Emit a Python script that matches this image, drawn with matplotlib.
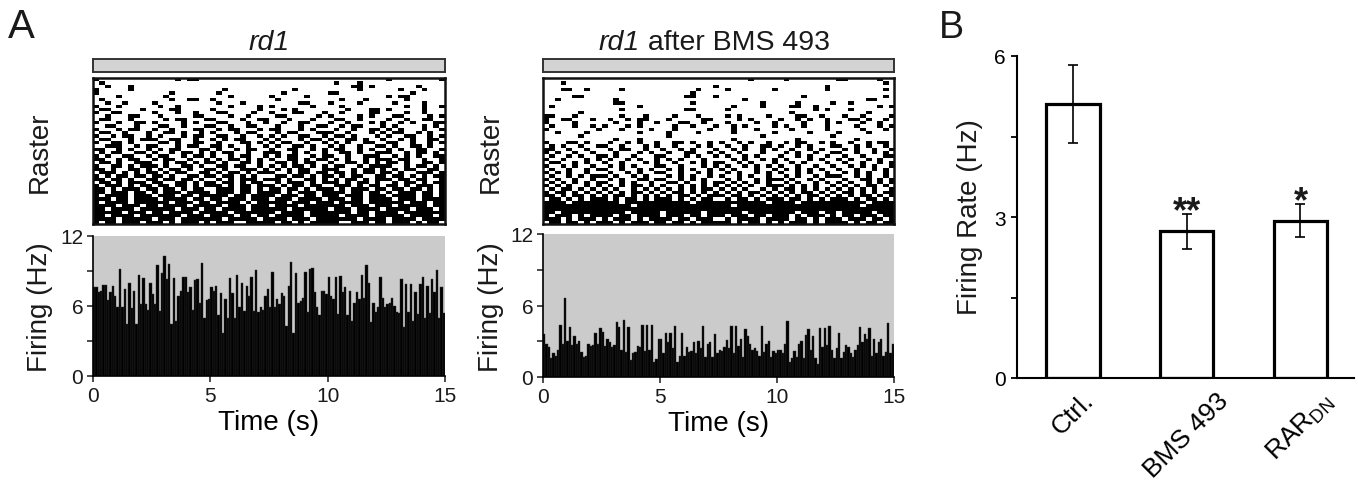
import matplotlib
matplotlib.use('Agg')
import matplotlib.pyplot as plt
import numpy as np

plt.rcParams['font.family'] = ['Liberation Sans', 'DejaVu Sans']
plt.rcParams['mathtext.fontset'] = 'custom'
plt.rcParams['mathtext.rm'] = 'Liberation Sans'
plt.rcParams['text.color'] = '#1a1a1a'

# ---- panel A data: population firing rate, 0.1 s bins over 15 s ----
bin_width = 0.1
rate_rd1 = [
    7.6, 7.6, 7.2, 7.3, 7.8, 7.8, 6.5, 7.2, 7.7, 6.9,
    5.9, 9.2, 5.9, 7.5, 4.5, 8.0, 5.8, 7.3, 4.5, 8.7,
    6.2, 8.4, 6.2, 5.7, 8.0, 7.0, 6.2, 9.5, 5.6, 8.8,
    10.3, 8.3, 9.6, 4.5, 8.4, 4.7, 6.9, 7.3, 8.5, 8.5,
    7.2, 7.6, 5.7, 8.2, 8.3, 6.3, 9.7, 5.0, 6.5, 6.6,
    7.6, 7.3, 7.7, 5.2, 7.1, 3.7, 6.6, 5.0, 8.4, 7.1,
    5.0, 8.7, 5.9, 8.0, 5.6, 7.7, 6.9, 8.5, 5.6, 9.1,
    5.5, 5.9, 5.7, 6.9, 7.5, 5.9, 8.9, 5.9, 6.6, 6.2,
    7.1, 6.9, 4.3, 7.7, 9.8, 3.7, 8.8, 6.3, 6.4, 6.7,
    8.9, 5.5, 9.2, 9.3, 7.2, 5.9, 5.2, 7.3, 7.3, 7.0,
    8.5, 6.9, 6.6, 8.5, 5.3, 8.6, 7.2, 7.6, 5.2, 7.3,
    4.7, 6.3, 7.2, 6.6, 8.7, 6.7, 9.5, 8.0, 4.6, 6.3,
    5.5, 5.9, 8.5, 6.7, 5.9, 6.2, 6.3, 6.7, 6.0, 5.5,
    5.4, 8.3, 4.2, 7.9, 5.5, 7.9, 4.7, 7.2, 5.3, 7.9,
    8.5, 5.0, 7.7, 5.4, 8.3, 7.2, 9.1, 5.0, 7.6, 5.4,
]
rate_bms = [
    3.6, 2.8, 2.5, 1.6, 2.0, 1.8, 2.3, 4.4, 2.8, 6.6,
    3.0, 4.2, 2.7, 3.4, 2.8, 3.0, 2.1, 1.7, 1.8, 2.8,
    2.6, 2.7, 3.7, 2.8, 4.1, 3.8, 2.6, 3.2, 2.9, 2.5,
    2.7, 4.6, 4.2, 2.3, 4.8, 2.1, 4.2, 1.4, 2.0, 2.1,
    2.6, 2.5, 4.4, 2.2, 4.4, 2.3, 4.4, 1.3, 1.5, 3.2,
    3.2, 2.0, 3.7, 2.9, 3.7, 2.4, 4.3, 1.3, 1.8, 3.7,
    1.8, 2.5, 2.1, 2.2, 2.9, 2.0, 3.0, 2.4, 4.3, 1.7,
    2.8, 2.9, 1.7, 3.6, 2.0, 2.3, 2.2, 2.5, 3.1, 2.4,
    4.3, 2.0, 4.3, 2.6, 3.2, 1.7, 4.0, 3.4, 2.8, 2.3,
    2.4, 2.2, 1.8, 4.3, 2.1, 2.8, 3.0, 1.7, 2.2, 2.0,
    2.3, 2.3, 2.0, 2.8, 4.7, 1.3, 1.6, 2.2, 1.7, 2.8,
    3.0, 1.6, 3.5, 4.0, 2.3, 3.4, 1.6, 1.1, 4.1, 2.5,
    4.1, 2.7, 4.3, 2.3, 1.6, 2.4, 3.7, 1.6, 2.1, 2.7,
    2.5, 2.0, 1.7, 2.3, 2.7, 4.2, 2.9, 3.6, 3.2, 4.1,
    1.8, 3.2, 2.0, 2.9, 3.2, 1.8, 2.1, 4.5, 2.0, 2.8,
]

# raster: one string per cell (row), '#' = spike in a 0.25 s slot (spaces only for readability)
raster_rd1 = [
    "#......... ....#.##.. .......... .......... .......... #........#",
    ".#........ .......... .......... .......... .#...#.... ..........",
    "..#...#... .......... .......... .......... ....##.#.. .....#....",
    "#.....#... .......... ..#....... ....#..... .....#.... ..#...#...",
    "#......... ...#...... .#........ ..#....... ##........ ....#.....",
    "....#..... ..#....... ...#...... #.....#... .......... #.##......",
    ".#........ ...#..##.. #......... .#........ ..#...#... ...#......",
    "..#..#.... #......... .#...#.... .....##... #....#.... .#....#...",
    "#...#..... .#..#..... ...#....#. #......#.. ..#....... ...#..#..#",
    ".##.....#. ...##..... #.......#. ..#.#..... ...#...##. #.....#...",
    "#..##..... #...#..#.. .##....#.. #...##...# ..#....##. ...#..#...",
    "..#...##.. .#.....##. ...#..#... .##.....#. #....#.#.. .##....#.#",
    ".##...#... ..#.##...# #....#..## ...#...#.. .##..#.... #..#..##..",
    "#...#..##. #....#.#.. .##...#..# ..#..##... #..#...#.# ..#.#...##",
    "..##...#.. .##..#...# #..#..##.. .#...#..## ..#.##...# .#....#.#.",
    "#...#.##.. #..#...##. .#.##...#. ##...#.#.. .#..#..##. #.#...#..#",
    ".##..#...# ..##.#..#. #...#.##.. .#.##...## #..#...#.# .##..#.#..",
    "#..#.##..# .#...#.##. .##..#..#. #.#..##..# .##.#...#. #..##..#.#",
    ".##...#.## #..##..#.. #.#.##...# .#...#.##. #..##.#..# ..#.#..##.",
    "#..##.#... .##.#..##. .#...##.#. #.##..#..# .#.#..##.. ##..#..#.#",
    "..###..#.# #...#.##.. ##.#..#..# .#..##.#.. #.#..#..## .#..##.#..",
    "##..#.#..# .#.##...## .#..#.##.. #..##..#.# .##..#.#.. #.#..##..#",
    ".#.##..##. #..#.##.#. #.##..#..# ##..#.#..# ..##.#..## #..#.##.#.",
    "#.#..##..# .##..#.##. #..#.##..# .#.##..#.# #..#..###. .#.#.#..##",
    "##..#.##.. #.##..#..# .#.##.#.#. #..##.#.## .#.#..#.## #.##..#..#",
    ".##.#..### ..#.##.#.# #.#..##.#. .##.#.##.. #..##.#.#. ##.#..##.#",
    "#..##.#.## #.#..##.#. .##.##..#. #.#.##.#.# .##..#.### #..#.##.#.",
    "##.#..##.# .#.##.#..# #.#..###.# .#.#.##..# ##..#.##.# .#.##..##.",
    ".###.#.#.# #.#.##..## .#.##.#.## #..#.##.## .##.#.##.# #.#..###.#",
    "#.#.##.##. ##.#..##.# #.##.#.#.. .##.##.#.# #.#.##..## .##.#.#.##",
    "##.##.#..# #.##.##.#. .#.#.###.# ##.#..##.# .#.##.#.## #.##.##..#",
    ".##.#.###. ##..##.#.# #.##.#.##. .#.###.#.# ##.#.##.#. .#.##.#.##",
    "#.###.#.## .##.##.#.# ##.#.##.## #.#.##.##. .###.#.##. ##.#.###.#",
    "##.#.###.# #.##.#.##. .###.##.#. ##.##.#.## #.#.###.## .##.##.#.#",
    "##.###.##. #.###.#### .###.##.## ##.#.###.# ###.##.##. #.###.##.#",
    "#.####.### .###.##.## ###.##.### #.###.##.# ##.###.### .####.##.#",
    "###.##.### #.####.##. ##.###.### .###.####. ###.##.### #.###.####",
    "#.####.### ###.###.## .####.#.## ###.###.## #.####.### ###.###.##",
    "####.###.# #.####.### ##.###.### .####.#### ###.###.## #.#####.##",
    "##.####.## ####.###.# #.####.### ###.###### .###.####. ####.###.#",
    "#####.###. ##.####.## ###.###### #.####.### ####.##.## ##.#######",
    "##.####.## #####.###. ####.##.## .#####.### ##.####.## ###.####.#",
    "####.##### .###.##### ##.#####.# ###.###.## #####.#### .####.####",
    "#.##.###.# ##.#.###.# .###..#### #.##.#.### ##..###.## .###.#.##.",
]
raster_bms = [
    ".......... .......... .......... .....#.... .#........ ##.....#..",
    "...#...... .......... .......... .......... .......... ........#.",
    ".......... .......... .........# .......... ........#. ..........",
    "...##..#.. ...#...... ......#... .#.......# ........#. ........#.",
    ".......... .......... .....#.... .......... .......... ..........",
    ".....##... .......... ....##...# .......... ....#..... ........#.",
    "..#....... ..#....... .......... ....#..... .......... .....##...",
    ".......... ..##...... .....#.... .......#.. ...#.....# ..#.......",
    ".#........ ......#... .......... ..#....#.. ..##..#... .......#.#",
    ".......... ...#...... ....##.... .#........ ......#.#. ..#.......",
    "......#... .......... .......... .......... ..#....... .....#....",
    "##...#.... ...#...#.. ..#...#... .#.#....#. ...##..#.. .#..#....#",
    "#..##...#. .#..#.##.. .#.....##. ...#.#.... #..#.#..#. ..##.#..#.",
    "#....#.... ..#...#..# ...##..#.. .#....#..# ....#...#. #...#..#..",
    ".#...#..#. #...#.#... ..#..#...# ..#.#....# .#..#...#. ...#...#.#",
    "#........# ...#....#. ..#.....#. ..#...#... ..#.....#. ....#...#.",
    "..#....#.. ......#... .#....#... ..#......# .....#.... #....#....",
    "......#... .......... .#........ .......#.. .........# ..........",
    ".......... ..#...#... .......... ..#....... ...#...... ...#......",
    "#...##.#.. .#..#.#..# ..##.#..#. #..#.#..#. .#.##..#.# ..#..#.##.",
    ".#.#..#..# #..#...#.# ..#...#.#. .#..#..##. #..#.#...# #..#.#..#.",
    "##..#..#.. .#.##..#.. #..#.#...# ..#.#..#.# ..#..#.#.. .#.#..#..#",
    "#.#..#..#. ..#...#.#. .#..##..#. #..#...#.. .#.#..#..# #..#..#.#.",
    ".#..#.#..# #.#..#...# #...#.#..# .#..#.#... #..#.#..#. .#..#...##",
    "#..#...#.# .#..#.#..# .#.#...#.. ..#.#..#.# .#...#.#.. #.#..#.#..",
    ".##..#.#.. #..#...#.# ..#..#.#.# #..#.#...# ..#.#...#. .#..#..#.#",
    "#..#.#..#. .#.#.#...# #..#...#.# .#..#.#.#. #..#..#..# ..#.#.#..#",
    ".#..#..#.# #..#..#.#. .#.#.#..#. #.#...#..# .#.#.#.#.. #..#..#.#.",
    "#.#.#..#.. .#..#.#..# #..#..#.#. .#.#..#.#. #..#.#..#. .#.#.#..#.",
    ".#..#.#.## #.#..#.#.. .#.#.#..#. #..#.#..#. .#.#..#.## #..#.#..#.",
    "#.#..#..#. .#.#..##.# #..#.#.#.. .#.#..#.## #.#..#.#.. .#..##.#.#",
    ".#.#.#.#.# #..#.#..#. .##.#..#.# #.#.#.#.#. .#.#..#.#. #.#..#.#.#",
    "#.#.#..#.# .#.#.##.#. #..#.#.#.# .#.#.#..## #.#.#.#..# .#.#.##.#.",
    ".#.##.#.#. #.#..#.#.# .#.#.#.##. #.#.#..#.# .##.#.#.#. #.#.#.#..#",
    "#.##.#.#.# .#.#.##.#. #.##.#.#.# .#.#.##.#. #.#.##.#.# .##.#.#.##",
    "##.#.##.#. #.##.#.#.# .#.##.#.## #.##.#.#.# .#.#.##.#. #.#.##.#.#",
    ".##.#.#.## #.#.##.#.# ##.#.#.##. .#.##.#.## #.##.#.#.# ##.#.##.#.",
    "####.##### ###.###### #####.#### ########.# ###.###### #####.####",
    "########## #####.#### ########## ##.####### ########## ####.#####",
    "########## ########## ########## ########## ########## ##########",
    "##.####### ####.##### .######.## ####.##### ###.###.## .#####.###",
    "#.###.#.## ##.##.#### .###.##.## #.###.##.# ##.#.###.# .##.###.##",
    "###.#.###. #.###.#.## ##.##.###. .#.####.## ##.##.#.## #.###.##.#",
    ".##.##.#.# ##.#.###.# #.##.#.### ##.#.##.#. #.###.#.## ##.#.##.##",
]

# ---- panel B data ----
groups = ['Ctrl.', 'BMS 493', r'RAR$_{\mathrm{DN}}$']
mean_rate = [5.1, 2.73, 2.93]
sem_rate = [0.73, 0.33, 0.31]
stars = ['', '**', '*']

W, H = 1358, 485
fig = plt.figure(figsize=(W / 100, H / 100), dpi=100)


def px_box(x0, y0, x1, y1):
    # pixel box (top-left origin) -> figure fraction rect
    return [x0 / W, 1 - y1 / H, (x1 - x0) / W, (y1 - y0) / H]


def to_matrix(rows, ncol=60):
    out = []
    for r in rows:
        r = r.replace(' ', '')[:ncol].ljust(ncol, '.')
        out.append([1 if c == '#' else 0 for c in r])
    return np.array(out)


def draw_column(x0, x1, rates, raster, hist_top, hist_bot):
    # stimulus bar
    axs = fig.add_axes(px_box(x0, 60, x1, 73))
    axs.set_facecolor('#d3d3d3')
    axs.set_xticks([])
    axs.set_yticks([])
    for s in axs.spines.values():
        s.set_linewidth(1.4)
        s.set_color('#333333')

    # raster
    axr = fig.add_axes(px_box(x0, 79, x1, 225))
    m = to_matrix(raster)
    axr.imshow(m, cmap='gray_r', aspect='auto', interpolation='nearest',
               extent=[0, 15, m.shape[0], 0], vmin=0, vmax=1)
    axr.set_xticks([])
    axr.set_yticks([])
    for s in axr.spines.values():
        s.set_linewidth(1.8)
        s.set_color('#111111')

    # firing histogram
    axh = fig.add_axes(px_box(x0, hist_top, x1, hist_bot))
    t = np.arange(len(rates)) * bin_width
    axh.bar(t, rates, width=bin_width, align='edge', color='black',
            edgecolor='#303030', linewidth=0.3)
    axh.set_facecolor('#cbcbcb')
    axh.set_xlim(0, 15)
    axh.set_ylim(0, 12)
    axh.set_xticks([0, 5, 10, 15])
    axh.set_yticks([0, 3, 6, 9, 12])
    axh.set_yticklabels(['0', '', '6', '', '12'])
    axh.spines['top'].set_visible(False)
    axh.spines['right'].set_visible(False)
    for s in ['left', 'bottom']:
        axh.spines[s].set_linewidth(1.2)
    axh.tick_params(direction='out', length=4, width=1.1, labelsize=15, pad=3,
                    colors='#1a1a1a')
    axh.set_xlabel('Time (s)', fontsize=20, labelpad=3)
    return axs


axs1 = draw_column(93, 445, rate_rd1, raster_rd1, 237, 377)
axs2 = draw_column(543, 894, rate_bms, raster_bms, 235, 378)

# titles (italic genotype name)
fig.text(269 / W, 1 - 50 / H, 'rd1', style='italic', fontsize=20.5, ha='center', va='baseline')
t_it = fig.text(599 / W, 1 - 50 / H, 'rd1', style='italic', fontsize=20.5, ha='left', va='baseline')
axs2.annotate(' after BMS 493', xy=(1, 0), xycoords=t_it, ha='left', va='bottom',
              fontsize=20.5, annotation_clip=False)

for xc in [40, 491]:
    fig.text(xc / W, 1 - 152 / H, 'Raster', rotation=90, ha='center', va='center', fontsize=20)
    fig.text(xc / W, 1 - 307 / H, 'Firing (Hz)', rotation=90, ha='center', va='center', fontsize=20)

fig.text(8 / W, 1 - 38 / H, 'A', fontsize=29, ha='left', va='baseline')
fig.text(939 / W, 1 - 38 / H, 'B', fontsize=27, ha='left', va='baseline')

# ---- panel B ----
axb = fig.add_axes(px_box(1017, 57, 1354, 379))
x = np.arange(len(groups))
axb.bar(x, mean_rate, width=0.47, color='white', edgecolor='black', linewidth=2.3, zorder=2)
axb.errorbar(x, mean_rate, yerr=sem_rate, fmt='none', ecolor='black',
             elinewidth=1.2, capsize=3.5, capthick=1.2, zorder=3)
for xi, m, e, s in zip(x, mean_rate, sem_rate, stars):
    if s:
        axb.text(xi, m + e - 0.14, s, ha='center', va='baseline', fontsize=26,
                 fontweight='bold')
axb.set_xlim(-0.49, 2.47)
axb.set_ylim(0, 6)
axb.set_yticks([0, 1.5, 3, 4.5, 6])
axb.set_yticklabels(['0', '', '3', '', '6'])
axb.set_xticks(x)
axb.set_xticklabels(groups, rotation=45, ha='center', fontsize=19)
axb.spines['top'].set_visible(False)
axb.spines['right'].set_visible(False)
for s in ['left', 'bottom']:
    axb.spines[s].set_linewidth(1.5)
axb.tick_params(axis='y', direction='out', length=4, width=1.3, labelsize=15, pad=4)
axb.tick_params(axis='x', length=0, pad=7)
fig.text(970 / W, 1 - 217 / H, 'Firing Rate (Hz)', rotation=90, ha='center', va='center', fontsize=20)

fig.savefig('out.png', dpi=100)
